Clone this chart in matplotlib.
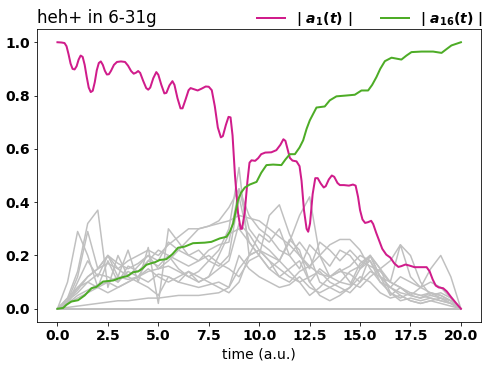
import matplotlib
matplotlib.use("Agg")
import matplotlib.pyplot as plt
import numpy as np

plt.rcParams["font.size"] = 14
plt.rcParams["font.weight"] = "bold"

# |a_1(t)|
t_a1 = [0, 0.2, 0.35, 0.45, 0.55, 0.65, 0.75, 0.85, 0.95, 1.05, 1.15, 1.25, 1.35, 1.45,
        1.55, 1.65, 1.75, 1.85, 1.95, 2.05, 2.15, 2.25, 2.35, 2.45, 2.55, 2.65, 2.8, 2.95,
        3.15, 3.35, 3.5, 3.65, 3.78, 3.9, 4.0, 4.1, 4.25, 4.4, 4.5, 4.6, 4.75, 4.9, 5.0,
        5.15, 5.3, 5.4, 5.55, 5.7, 5.8, 5.95, 6.1, 6.2, 6.35, 6.5, 6.6, 6.75, 6.95, 7.15,
        7.35, 7.5, 7.65, 7.8, 7.95, 8.1, 8.2, 8.35, 8.48, 8.58, 8.68, 8.8, 8.95, 9.08,
        9.15, 9.28, 9.42, 9.52, 9.62, 9.8, 9.95, 10.1, 10.3, 10.6, 10.85, 11.05, 11.2,
        11.3, 11.42, 11.52, 11.65, 11.85, 12.0, 12.1, 12.22, 12.35, 12.43, 12.52, 12.65,
        12.78, 12.9, 13.05, 13.2, 13.3, 13.45, 13.6, 13.72, 13.88, 14.0, 14.2, 14.45,
        14.65, 14.78, 14.9, 15.0, 15.12, 15.25, 15.4, 15.55, 15.65, 15.8, 15.95, 16.1,
        16.3, 16.5, 16.7, 16.9, 17.05, 17.25, 17.45, 17.7, 18.0, 18.3, 18.45, 18.6, 18.75,
        18.9, 19.12, 19.3, 19.5, 19.75, 20.0]
a1 = [1.0, 0.999, 0.997, 0.985, 0.955, 0.92, 0.9, 0.898, 0.91, 0.935, 0.95, 0.945, 0.915,
      0.87, 0.83, 0.813, 0.818, 0.85, 0.895, 0.922, 0.928, 0.915, 0.893, 0.879, 0.88,
      0.892, 0.915, 0.926, 0.928, 0.926, 0.912, 0.892, 0.882, 0.886, 0.892, 0.885, 0.855,
      0.828, 0.822, 0.83, 0.865, 0.888, 0.878, 0.84, 0.808, 0.81, 0.838, 0.854, 0.84,
      0.79, 0.752, 0.752, 0.785, 0.82, 0.828, 0.824, 0.819, 0.826, 0.834, 0.833, 0.82,
      0.76, 0.68, 0.643, 0.648, 0.69, 0.72, 0.718, 0.65, 0.5, 0.36, 0.3, 0.3, 0.36, 0.48,
      0.548, 0.557, 0.555, 0.565, 0.58, 0.586, 0.587, 0.595, 0.615, 0.636, 0.63, 0.595,
      0.566, 0.556, 0.553, 0.535, 0.48, 0.37, 0.3, 0.289, 0.32, 0.43, 0.49, 0.49, 0.47,
      0.455, 0.46, 0.485, 0.5, 0.495, 0.472, 0.464, 0.464, 0.462, 0.466, 0.462, 0.42,
      0.37, 0.335, 0.322, 0.325, 0.33, 0.318, 0.285, 0.255, 0.225, 0.203, 0.192, 0.17,
      0.157, 0.16, 0.166, 0.162, 0.156, 0.156, 0.156, 0.14, 0.11, 0.087, 0.08, 0.077,
      0.065, 0.045, 0.022, 0.0]

# |a_16(t)|
t_a16 = [0, 0.28, 0.45, 0.69, 1.02, 1.35, 1.69, 1.93, 2.26, 2.76, 3.0, 3.25, 3.45, 3.75,
         4.0, 4.2, 4.41, 4.66, 4.85, 5.07, 5.4, 5.7, 5.98, 6.3, 6.72, 7.3, 7.63, 8.05,
         8.38, 8.55, 8.71, 8.95, 9.1, 9.29, 9.53, 9.87, 10.1, 10.36, 10.69, 11.1, 11.3,
         11.52, 11.77, 12.0, 12.18, 12.35, 12.51, 12.84, 13.25, 13.5, 13.83, 14.3, 14.74,
         15.07, 15.4, 15.6, 15.81, 16.0, 16.23, 16.56, 17.05, 17.3, 17.55, 18.05, 18.62,
         19.04, 19.3, 19.53, 20.0]
a16 = [0, 0.003, 0.015, 0.027, 0.032, 0.05, 0.077, 0.082, 0.102, 0.106, 0.113, 0.119,
       0.122, 0.137, 0.14, 0.15, 0.165, 0.171, 0.175, 0.183, 0.186, 0.205, 0.229, 0.233,
       0.246, 0.248, 0.251, 0.264, 0.27, 0.29, 0.32, 0.408, 0.435, 0.455, 0.466, 0.476,
       0.51, 0.539, 0.541, 0.539, 0.56, 0.58, 0.58, 0.605, 0.632, 0.675, 0.707, 0.755,
       0.759, 0.782, 0.797, 0.8, 0.803, 0.819, 0.819, 0.84, 0.869, 0.9, 0.929, 0.942,
       0.935, 0.95, 0.963, 0.965, 0.965, 0.96, 0.975, 0.988, 1.0]

# the other states, sampled every 0.5 a.u.
t_grey = np.arange(0, 20.01, 0.5)
grey = [
    [0, 0.04, 0.14, 0.32, 0.37, 0.08, 0.2, 0.12, 0.16, 0.2, 0.18, 0.25, 0.22, 0.26, 0.3, 0.31, 0.33, 0.38, 0.45, 0.3, 0.25,
     0.22, 0.18, 0.26, 0.22, 0.1, 0.15, 0.12, 0.1, 0.14, 0.16, 0.2, 0.12, 0.05, 0.08, 0.05, 0.04, 0.06, 0.05, 0.03, 0],
    [0, 0.1, 0.29, 0.2, 0.08, 0.18, 0.1, 0.14, 0.12, 0.18, 0.22, 0.2, 0.15, 0.12, 0.14, 0.18, 0.22, 0.3, 0.53, 0.2, 0.28,
     0.25, 0.3, 0.2, 0.15, 0.24, 0.2, 0.16, 0.22, 0.2, 0.15, 0.18, 0.1, 0.06, 0.04, 0.06, 0.05, 0.04, 0.03, 0.02, 0],
    [0, 0.03, 0.12, 0.29, 0.15, 0.2, 0.12, 0.22, 0.1, 0.23, 0.02, 0.3, 0.25, 0.2, 0.22, 0.18, 0.16, 0.2, 0.42, 0.25, 0.2,
     0.35, 0.39, 0.28, 0.2, 0.15, 0.25, 0.22, 0.18, 0.22, 0.18, 0.16, 0.14, 0.1, 0.24, 0.12, 0.08, 0.06, 0.04, 0.03, 0],
    [0, 0.02, 0.08, 0.12, 0.15, 0.17, 0.15, 0.18, 0.2, 0.22, 0.2, 0.24, 0.27, 0.3, 0.3, 0.31, 0.32, 0.33, 0.35, 0.34, 0.33,
     0.3, 0.27, 0.24, 0.2, 0.16, 0.13, 0.12, 0.14, 0.16, 0.2, 0.18, 0.12, 0.1, 0.08, 0.06, 0.05, 0.06, 0.05, 0.03, 0],
    [0, 0.02, 0.05, 0.07, 0.09, 0.1, 0.08, 0.1, 0.12, 0.1, 0.13, 0.12, 0.1, 0.09, 0.08, 0.09, 0.1, 0.08, 0.2, 0.15, 0.12,
     0.1, 0.08, 0.09, 0.12, 0.08, 0.06, 0.08, 0.1, 0.09, 0.17, 0.2, 0.12, 0.08, 0.06, 0.05, 0.04, 0.05, 0.06, 0.04, 0],
    [0, 0.005, 0.01, 0.015, 0.02, 0.025, 0.03, 0.03, 0.035, 0.04, 0.04, 0.045, 0.05, 0.05, 0.05, 0.055, 0.06, 0.08, 0.15,
     0.2, 0.22, 0.18, 0.12, 0.15, 0.18, 0.1, 0.05, 0.03, 0.05, 0.08, 0.12, 0.1, 0.06, 0.04, 0.05, 0.03, 0.02, 0.03, 0.04,
     0.02, 0],
    [0, 0.03, 0.06, 0.1, 0.13, 0.12, 0.1, 0.16, 0.14, 0.18, 0.16, 0.2, 0.18, 0.16, 0.18, 0.2, 0.17, 0.15, 0.12, 0.18, 0.2,
     0.15, 0.12, 0.1, 0.14, 0.16, 0.2, 0.24, 0.26, 0.26, 0.22, 0.15, 0.1, 0.08, 0.12, 0.1, 0.08, 0.1, 0.08, 0.04, 0],
    [0, 0.02, 0.1, 0.18, 0.12, 0.2, 0.15, 0.12, 0.1, 0.08, 0.05, 0.12, 0.1, 0.14, 0.1, 0.12, 0.2, 0.28, 0.3, 0.25, 0.2,
     0.15, 0.18, 0.25, 0.35, 0.42, 0.2, 0.12, 0.15, 0.1, 0.08, 0.12, 0.15, 0.1, 0.08, 0.05, 0.08, 0.15, 0.2, 0.12, 0],
    [0, 0.04, 0.08, 0.1, 0.08, 0.06, 0.08, 0.1, 0.12, 0.15, 0.12, 0.1, 0.12, 0.14, 0.12, 0.1, 0.08, 0.06, 0.1, 0.2, 0.22,
     0.2, 0.18, 0.14, 0.1, 0.12, 0.14, 0.1, 0.08, 0.06, 0.1, 0.2, 0.15, 0.18, 0.24, 0.2, 0.1, 0.05, 0.04, 0.02, 0],
    [0, 0.03, 0.07, 0.12, 0.15, 0.2, 0.17, 0.15, 0.17, 0.2, 0.15, 0.18, 0.22, 0.2, 0.18, 0.22, 0.24, 0.25, 0.45, 0.35, 0.3,
     0.27, 0.22, 0.2, 0.25, 0.2, 0.1, 0.08, 0.06, 0.08, 0.15, 0.2, 0.15, 0.06, 0.03, 0.04, 0.03, 0.04, 0.03, 0.02, 0],
    [0, 0.02, 0.04, 0.06, 0.08, 0.1, 0.12, 0.11, 0.12, 0.14, 0.15, 0.16, 0.14, 0.12, 0.1, 0.12, 0.15, 0.18, 0.32, 0.28,
     0.22, 0.18, 0.15, 0.12, 0.1, 0.05, 0.08, 0.12, 0.14, 0.13, 0.1, 0.14, 0.12, 0.08, 0.05, 0.03, 0.02, 0.03, 0.02, 0.01,
     0],
]
n_zero = 3  # states that never get populated

xticks = np.arange(0, 20.1, 2.5)
yticks = np.arange(0, 1.01, 0.2)

fig, ax = plt.subplots(figsize=(497 / 72, 366 / 72), dpi=72)
fig.subplots_adjust(left=0.075, right=0.968, top=0.921, bottom=0.12)

for g in grey:
    ax.plot(t_grey, g, color="silver", lw=1.5)
for k in range(n_zero):
    ax.plot(t_grey, np.zeros(len(t_grey)), color="silver", lw=1.5)

ax.plot(t_a1, a1, color="#d01c8b", lw=2, label=r"| $\boldsymbol{a_{1}(t)}$ |")
ax.plot(t_a16, a16, color="#4dac26", lw=2, label=r"| $\boldsymbol{a_{16}(t)}$ |")

ax.set_xlabel("time (a.u.)", fontweight="normal")
ax.set_title("heh+ in 6-31g", loc="left", fontweight="normal")
ax.set_xticks(xticks)
ax.set_yticks(yticks)

ax.legend(loc="lower right", bbox_to_anchor=(1.017, 0.984), ncol=2, frameon=False,
          prop={"weight": "bold"}, borderaxespad=0)

fig.savefig("out.png", dpi=72)
